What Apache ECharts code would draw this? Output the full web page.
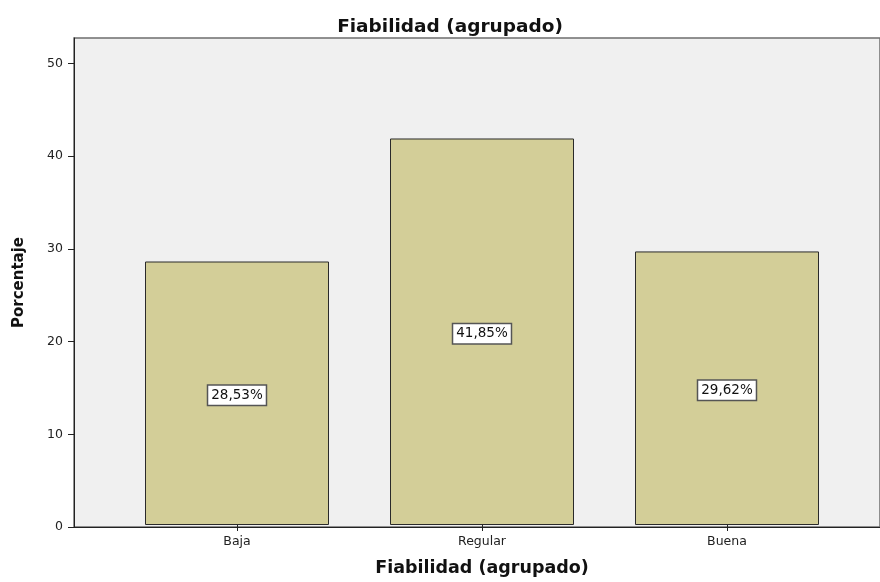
<!DOCTYPE html>
<html>
<head>
<meta charset="utf-8">
<style>
  html, body { margin: 0; padding: 0; background: #ffffff; }
  #chart { width: 880px; height: 582px; }
</style>
<script src="https://cdn.jsdelivr.net/npm/echarts@6/dist/echarts.min.js"></script>
</head>
<body>
<div id="chart"></div>
<script>
// Grouped reliability levels and their share of respondents (%)
const categories = ['Baja', 'Regular', 'Buena'];
const percentages = [28.53, 41.85, 29.62];
const yTicks = [0, 10, 20, 30, 40, 50];

const chartTitle = 'Fiabilidad (agrupado)';
const xAxisTitle = 'Fiabilidad (agrupado)';
const yAxisTitle = 'Porcentaje';

const Y_MAX = 52.73;
const AXIS_FONT = 'DejaVu Sans, Arial, sans-serif';

const chart = echarts.init(document.getElementById('chart'), null, { renderer: 'canvas' });

const fmtPct = v => v.toFixed(2).replace('.', ',') + '%';

chart.setOption({
  animation: false,
  backgroundColor: '#ffffff',
  title: {
    text: chartTitle,
    left: 445,
    top: 13,
    textAlign: 'center',
    textStyle: { fontFamily: AXIS_FONT, fontWeight: 'bold', fontSize: 18.5, color: '#111' }
  },
  grid: [
    // plot frame with grey background
    { left: 74, top: 38, right: -4, bottom: 55, show: true,
      backgroundColor: '#F0F0F0', borderColor: '#6e6e6e', borderWidth: 1.5 },
    // area holding the category slots
    { left: 114.5, width: 735, top: 38, bottom: 55 }
  ],
  xAxis: [
    { type: 'value', gridIndex: 0, min: 0, max: 1,
      axisLine: { show: true, lineStyle: { color: '#222', width: 1 } },
      axisTick: { show: false }, axisLabel: { show: false }, splitLine: { show: false } },
    { type: 'category', gridIndex: 1, data: categories,
      axisLine: { show: false },
      axisTick: { show: true, alignWithLabel: true, length: 6, lineStyle: { color: '#222' } },
      axisLabel: { margin: 10, fontFamily: AXIS_FONT, fontSize: 12.5, color: '#222' },
      name: xAxisTitle, nameLocation: 'middle', nameGap: 34,
      nameTextStyle: { fontFamily: AXIS_FONT, fontWeight: 'bold', fontSize: 17.5, color: '#111' } }
  ],
  yAxis: [
    { type: 'value', gridIndex: 0, min: 0, max: Y_MAX, interval: 10,
      axisLine: { show: true, lineStyle: { color: '#222', width: 1 } },
      axisTick: { show: true, length: 6, customValues: yTicks, lineStyle: { color: '#222' } },
      axisLabel: { margin: 11, fontFamily: AXIS_FONT, fontSize: 12.5, color: '#222',
        customValues: yTicks },
      splitLine: { show: false },
      name: yAxisTitle, nameLocation: 'middle', nameGap: 47, nameRotate: 90,
      nameTextStyle: { fontFamily: AXIS_FONT, fontWeight: 'bold', fontSize: 15, color: '#111' } },
    { type: 'value', gridIndex: 1, min: 0, max: Y_MAX, show: false, splitLine: { show: false } }
  ],
  series: [{
    type: 'bar',
    xAxisIndex: 1,
    yAxisIndex: 1,
    data: percentages,
    barWidth: 184,
    itemStyle: { color: '#D3CE98', borderColor: '#2a2a2a', borderWidth: 1 },
    label: {
      show: true,
      position: 'inside',
      offset: [0, 2],
      formatter: p => fmtPct(p.value),
      fontFamily: AXIS_FONT,
      fontSize: 13.5,
      color: '#111',
      backgroundColor: '#ffffff',
      borderColor: '#555',
      borderWidth: 1.5,
      padding: [3, 3, 2, 3]
    }
  }]
});
</script>
</body>
</html>
